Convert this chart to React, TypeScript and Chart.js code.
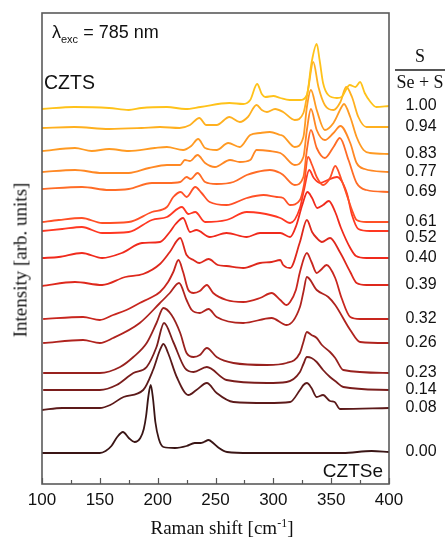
import React, { useEffect, useRef } from "react";
import { Chart, registerables } from "chart.js";

Chart.register(...registerables);

const W = 445;
const H = 537;

// S/(Se+S) ratio of each spectrum, top to bottom
const compositions = ["1.00", "0.94", "0.83", "0.77", "0.69", "0.61", "0.52", "0.40", "0.39", "0.32", "0.26", "0.23", "0.14", "0.08", "0.00"];
const lineColors = ["#ffc21a", "#ffb01f", "#ff9a22", "#ff8824", "#ff6c26", "#ff5026", "#ff3822", "#f02a1c", "#de281c", "#c8261e", "#b0231e", "#98211e", "#7a1d1c", "#5c1a1a", "#3a1515"];
const xTickValues = [100, 150, 200, 250, 300, 350, 400];
const minorTickStep = 25;

// Raman shift (cm-1) and offset intensity (arb. units) of each spectrum
const shift_100 = [100, 128, 158, 175, 186, 208, 224, 237, 262, 274, 280, 286, 290, 293, 300, 306, 314, 323, 329, 333, 337.5, 340, 343, 347.5, 355, 359, 366, 371, 375, 379, 384, 389, 400];
const int_100 = [375, 377, 376, 374, 376, 377, 375, 377, 381, 380, 384, 400, 390, 387, 388, 386, 384, 384, 389, 421, 440, 424, 401, 389, 386, 387, 399, 397, 402, 391, 382, 377, 378];

const shift_094 = [100, 128, 158, 186, 202, 219, 228, 236, 242, 251, 262, 271, 278, 285.5, 290, 294.5, 301.5, 308.5, 318.5, 326, 330, 334.5, 339, 344.5, 352, 358, 363, 368, 373.5, 380.5, 400];
const int_094 = [356, 357, 355, 356, 357, 356, 359, 366, 359, 359, 367, 362, 367, 379, 374, 372, 375, 372, 364, 371, 394, 422, 397, 379, 374, 382, 397, 387, 367, 357, 357];

const shift_083 = [100, 128.5, 143, 158, 175, 197.5, 208, 222, 229, 235, 241, 251, 261, 271, 280, 288.5, 297, 306, 308.5, 318.5, 326, 329, 332.5, 337.5, 344.5, 352, 359, 361, 366.5, 372, 378, 383.5, 400];
const int_083 = [333, 336, 333, 335, 333, 336, 337, 334, 338, 345, 336, 334, 341, 337, 349, 351, 352, 349, 348, 337, 347, 377, 394, 374, 354, 361, 377, 380, 367, 347, 334, 331, 330];

const shift_077 = [100, 128.5, 152, 175, 192.5, 208, 219.5, 223.5, 228, 234.5, 241, 249.5, 262.5, 271, 280, 285.5, 297, 306, 308.5, 318.5, 326, 329, 332.5, 337.5, 344.5, 352, 358, 366.5, 372, 379, 400];
const int_077 = [312, 314, 311, 311, 316, 319, 319, 324, 323, 329, 321, 317, 324, 322, 324, 334, 333, 331, 329, 319, 327, 354, 375, 354, 344, 351, 358, 341, 321, 315, 312];

const shift_069 = [100, 134.5, 158, 175, 195, 208, 219.5, 225, 228.5, 234.5, 241, 251, 265.5, 277, 285.5, 297, 306, 308.5, 318.5, 326, 329, 332.5, 337.5, 344.5, 352, 357.5, 365, 372, 380.5, 400];
const int_069 = [295, 297, 294, 295, 301, 301, 302, 307, 305, 311, 302, 300, 302, 309, 312, 314, 311, 309, 299, 307, 334, 354, 336, 326, 337, 346, 324, 301, 294, 292];

const shift_061 = [100, 114.5, 134.5, 152, 175, 195, 208, 213.5, 220, 225, 232.5, 238, 245, 259.5, 277, 291.5, 303, 308.5, 314.5, 323, 326.5, 330, 333.5, 337.5, 343, 349, 353.5, 359, 365, 368, 372, 380.5, 400];
const int_061 = [262, 264, 266, 261, 262, 272, 277, 287, 292, 287, 297, 291, 282, 279, 286, 289, 287, 286, 279, 284, 299, 327, 319, 307, 299, 306, 318, 304, 284, 274, 264, 262, 262];

const shift_052 = [100, 117.5, 134.5, 152, 175, 195, 208, 221, 226.5, 232.5, 241, 259.5, 277, 288.5, 306, 314.5, 323, 326.5, 331, 335, 340.5, 347, 355, 363.5, 368, 373.5, 383.5, 400];
const int_052 = [253, 255, 257, 251, 252, 264, 267, 277, 270, 272, 262, 264, 272, 271, 266, 261, 276, 294, 314, 306, 301, 304, 307, 291, 269, 255, 253, 253];

const shift_040 = [100, 114.5, 134.5, 152, 169, 186.5, 202, 210.5, 215.5, 222, 228, 233.5, 245, 259.5, 277, 288.5, 306, 314.5, 320, 325, 329.5, 333.5, 338, 343, 348, 353.5, 358.5, 366.5, 371.5, 380.5, 400];
const int_040 = [226, 227, 231, 226, 231, 241, 242, 252, 260, 266, 252, 254, 247, 251, 247, 251, 251, 247, 259, 279, 292, 286, 276, 279, 283, 272, 256, 236, 228, 226, 226];

const shift_039 = [100, 128.5, 152, 172, 187.5, 202, 210.5, 219.5, 225, 231, 236, 244, 252, 259.5, 274, 288.5, 298.5, 306, 308.5, 314.5, 323, 329, 333.5, 337.5, 342, 349, 357.5, 366.5, 372, 380.5, 400];
const int_039 = [198, 202, 199, 207, 210, 220, 232, 246, 229, 224, 221, 225, 219, 218, 216, 221, 222, 224, 219, 216, 242, 264, 252, 246, 242, 246, 232, 212, 201, 199, 199];

const shift_032 = [101, 135.5, 150, 161.5, 173, 184.5, 193.5, 202, 209, 213.5, 218, 222, 226.5, 231, 236.5, 242.5, 248, 259.5, 274, 288.5, 298.5, 306, 311.5, 314.5, 319.5, 323, 329, 333, 337.5, 341, 346, 353.5, 359, 366.5, 375, 400];
const int_032 = [165, 167, 164, 169, 174, 181, 186, 192, 202, 212, 224, 212, 194, 191, 193, 199, 191, 184, 182, 186, 191, 184, 179, 182, 194, 212, 231, 222, 211, 214, 219, 206, 186, 167, 165, 165];

const shift_026 = [101, 135.5, 150, 161.5, 184.5, 202, 210.5, 218.5, 225, 229.5, 236.5, 244, 251, 274, 298.5, 311.5, 323, 326, 329, 337.5, 347.5, 353.5, 366.5, 375, 400];
const int_026 = [141, 144, 141, 146, 161, 181, 191, 201, 184, 174, 171, 175, 167, 161, 166, 159, 177, 192, 207, 194, 187, 179, 154, 142, 141];

const shift_023 = [101, 150, 167.5, 179, 190.5, 199, 205, 212, 219.5, 225, 231, 236.5, 242.5, 251, 265.5, 294.5, 311.5, 323, 326, 329, 333, 337.5, 342, 349, 353.5, 360.5, 400];
const int_023 = [111, 111, 117, 127, 141, 161, 176, 169, 151, 131, 127, 129, 136, 127, 121, 119, 121, 131, 142, 152, 149, 146, 139, 132, 126, 114, 111];

const shift_014 = [101, 150, 164.5, 179, 190.5, 199, 205.5, 213.5, 223.5, 231, 242.5, 259.5, 294.5, 311.5, 323, 326, 329, 333, 337.5, 343, 349, 354.5, 360.5, 400];
const int_014 = [94, 94, 99, 111, 117, 137, 161, 142, 116, 112, 117, 104, 101, 102, 112, 120, 127, 126, 122, 114, 107, 102, 97, 94];

const shift_008 = [100, 117.5, 137.5, 150, 159, 170.5, 187.5, 196, 202, 205, 209, 216.5, 226.5, 233.5, 242.5, 251, 265.5, 294.5, 314.5, 323, 326, 329, 333, 337.5, 343, 349, 353, 357.5, 400];
const int_008 = [74, 76, 76, 76, 79, 87, 94, 114, 134, 140, 131, 107, 89, 94, 101, 91, 82, 81, 82, 94, 99, 101, 96, 87, 89, 83, 82, 75, 76];

const shift_000 = [100, 120, 140, 150, 155, 160, 165, 170, 175, 180, 185, 188, 190, 192, 194, 196, 198, 201, 205, 215, 225, 232, 237, 240, 244, 248, 253, 260, 280, 300, 330, 360, 385, 400];
const int_000 = [31, 31, 31, 31, 33, 38, 47, 52, 46, 42, 46, 55, 68, 88, 99, 85, 62, 45, 37, 36, 38, 41, 41, 42, 44, 41, 36, 32, 31, 31, 31, 31, 33, 32];

const spectra: [number[], number[]][] = [
  [shift_100, int_100], [shift_094, int_094], [shift_083, int_083], [shift_077, int_077],
  [shift_069, int_069], [shift_061, int_061], [shift_052, int_052], [shift_040, int_040],
  [shift_039, int_039], [shift_032, int_032], [shift_026, int_026], [shift_023, int_023],
  [shift_014, int_014], [shift_008, int_008], [shift_000, int_000],
];

const decorPlugin = {
  id: "decor",
  afterDatasetsDraw(chart: any) {
    const { ctx, chartArea: a, scales } = chart;
    const xs = scales.x;
    const ys = scales.y;
    ctx.save();
    // inward minor / major ticks on the bottom axis
    ctx.strokeStyle = "#555";
    ctx.lineWidth = 1.2;
    for (let v = xs.min; v <= xs.max; v += minorTickStep) {
      const px = Math.round(xs.getPixelForValue(v)) + 0.5;
      const len = v % 50 === 0 ? 6 : 4;
      ctx.beginPath();
      ctx.moveTo(px, a.bottom);
      ctx.lineTo(px, a.bottom - len);
      ctx.stroke();
    }
    // frame
    ctx.strokeStyle = "#5a5a5a";
    ctx.lineWidth = 1.6;
    ctx.strokeRect(a.left, a.top, a.right - a.left, a.bottom - a.top);
    // composition labels at the end of each spectrum (kept apart)
    ctx.fillStyle = "#111";
    ctx.font = "16px 'Liberation Sans', Arial, sans-serif";
    ctx.textAlign = "center";
    ctx.textBaseline = "middle";
    let prev = -Infinity;
    chart.data.datasets.forEach((ds: any, i: number) => {
      const last = ds.data[ds.data.length - 1];
      let y = ys.getPixelForValue(last.y);
      if (y < prev + 16) y = prev + 16;
      prev = y;
      ctx.fillText(compositions[i], a.right + 32, y);
    });
    ctx.restore();
  },
};

export default function App() {
  const canvasRef = useRef<HTMLCanvasElement | null>(null);

  useEffect(() => {
    if (!canvasRef.current) return;
    const datasets = spectra.map(([xsArr, ysArr], i) => ({
      label: compositions[i],
      data: xsArr.map((x, j) => ({ x, y: ysArr[j] })),
      borderColor: lineColors[i],
      backgroundColor: lineColors[i],
      borderWidth: 1.8,
      pointRadius: 0,
      fill: false,
      cubicInterpolationMode: "monotone" as const,
    }));
    const chart = new Chart(canvasRef.current, {
      type: "line",
      data: { datasets },
      options: {
        animation: false,
        responsive: false,
        events: [],
        layout: { padding: { left: 0, right: 56, top: 13, bottom: 0 } },
        plugins: { legend: { display: false }, tooltip: { enabled: false } },
        scales: {
          x: {
            type: "linear",
            min: 100,
            max: 400,
            afterFit: (s: any) => { s.height = 53; },
            afterBuildTicks: (s: any) => { s.ticks = xTickValues.map((v) => ({ value: v })); },
            ticks: {
              padding: 6,
              color: "#111",
              autoSkip: false,
              maxRotation: 0,
              font: { family: "'Liberation Sans', Arial, sans-serif", size: 17 },
              callback: (v: any) => String(v),
            },
            grid: { display: false, drawTicks: false },
            border: { display: false },
          },
          y: {
            min: 0,
            max: 471,
            afterFit: (s: any) => { s.width = 42; },
            ticks: { display: false },
            grid: { display: false, drawTicks: false },
            border: { display: false },
          },
        },
      },
      plugins: [decorPlugin],
    });
    return () => chart.destroy();
  }, []);

  const abs: React.CSSProperties = { position: "absolute", whiteSpace: "nowrap", lineHeight: 1, color: "#111" };
  const sans = "'Liberation Sans', Arial, sans-serif";
  const serif = "'Liberation Serif', 'Times New Roman', serif";

  return (
    <div style={{ position: "absolute", left: 0, top: 0, width: W, height: H, background: "#fff", overflow: "hidden" }}>
      <canvas ref={canvasRef} width={W} height={H} style={{ display: "block", width: W, height: H }} />
      <div style={{ ...abs, left: 20, top: 260, transform: "translate(-50%,-50%) rotate(-90deg)", fontFamily: serif, fontSize: 19 }}>
        Intensity [arb. units]
      </div>
      <div style={{ ...abs, left: 222, top: 527, transform: "translate(-50%,-50%)", fontFamily: serif, fontSize: 19 }}>
        Raman shift [cm<span style={{ fontSize: 12, position: "relative", top: -7 }}>-1</span>]
      </div>
      <div style={{ ...abs, left: 52, top: 32, transform: "translateY(-50%)", fontFamily: sans, fontSize: 18 }}>
        λ<span style={{ fontSize: 11, position: "relative", top: 5 }}>exc</span> = 785 nm
      </div>
      <div style={{ ...abs, left: 44, top: 83, transform: "translateY(-50%)", fontFamily: sans, fontSize: 19.5 }}>CZTS</div>
      <div style={{ ...abs, left: 383, top: 470, transform: "translate(-100%,-50%)", fontFamily: sans, fontSize: 19 }}>CZTSe</div>
      <div style={{ ...abs, left: 420, top: 56, transform: "translate(-50%,-50%)", fontFamily: serif, fontSize: 18 }}>S</div>
      <div style={{ position: "absolute", left: 395, top: 69, width: 50, height: 1.5, background: "#555" }} />
      <div style={{ ...abs, left: 420, top: 82, transform: "translate(-50%,-50%)", fontFamily: serif, fontSize: 18 }}>Se + S</div>
    </div>
  );
}
